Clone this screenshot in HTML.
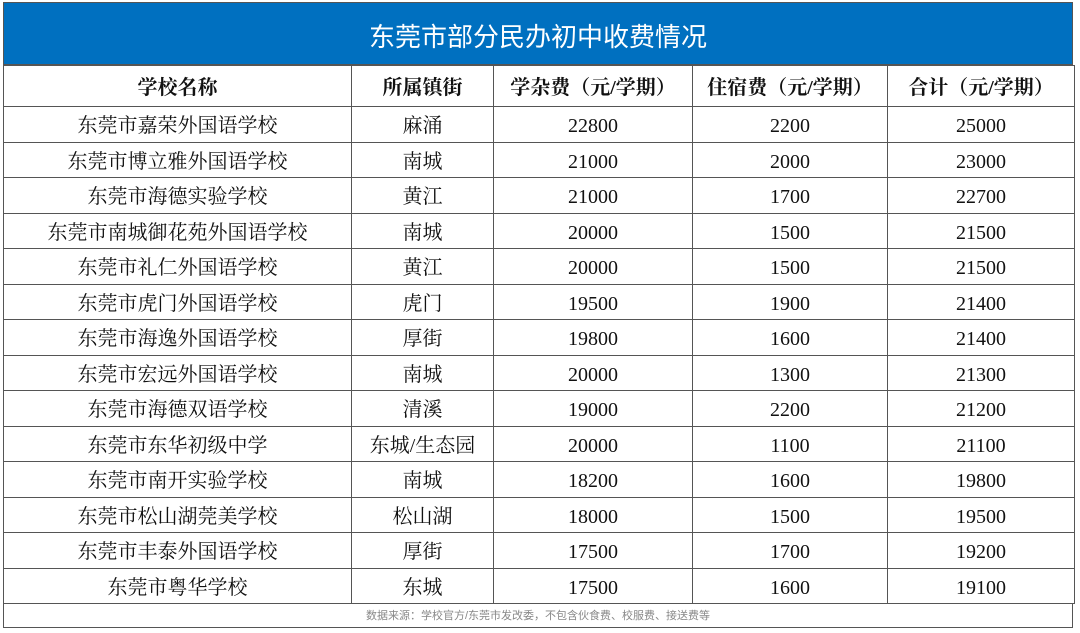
<!DOCTYPE html>
<html><head><meta charset="utf-8"><style>
body{margin:0;width:1080px;height:633px;background:#fff;position:relative;overflow:hidden;font-family:"Liberation Serif","Noto Serif CJK SC",serif;color:#111}
.t{position:absolute;left:3px;top:2px;width:1070px;height:63px;background:#0070c0;color:#fff;font-family:"Liberation Sans","Noto Sans CJK SC",sans-serif;font-size:26px;text-align:center;line-height:68px;border:1px solid #555;box-sizing:border-box}
table{position:absolute;left:3px;top:65px;width:1071px;border-collapse:collapse;table-layout:fixed}
td{border:1px solid #555;text-align:center;font-size:20px;height:35.5px;padding:4px 0 0 0;line-height:30px;box-sizing:border-box}
tr.h td{font-weight:bold;height:41px}
.f{position:absolute;left:3px;top:603px;width:1070px;height:25px;border:1px solid #555;border-top:none;box-sizing:border-box;font-family:"Liberation Sans","Noto Sans CJK SC",sans-serif;font-size:11px;color:#888;text-align:center;line-height:27px}
</style></head><body>
<div class="t">东莞市部分民办初中收费情况</div>
<table>
<colgroup><col style="width:348px"><col style="width:142px"><col style="width:199px"><col style="width:195px"><col style="width:187px"></colgroup>
<tr class="h"><td>学校名称</td><td>所属镇街</td><td>学杂费（元/学期）</td><td>住宿费（元/学期）</td><td>合计（元/学期）</td></tr>
<tr><td>东莞市嘉荣外国语学校</td><td>麻涌</td><td>22800</td><td>2200</td><td>25000</td></tr>
<tr><td>东莞市博立雅外国语学校</td><td>南城</td><td>21000</td><td>2000</td><td>23000</td></tr>
<tr><td>东莞市海德实验学校</td><td>黄江</td><td>21000</td><td>1700</td><td>22700</td></tr>
<tr><td>东莞市南城御花苑外国语学校</td><td>南城</td><td>20000</td><td>1500</td><td>21500</td></tr>
<tr><td>东莞市礼仁外国语学校</td><td>黄江</td><td>20000</td><td>1500</td><td>21500</td></tr>
<tr><td>东莞市虎门外国语学校</td><td>虎门</td><td>19500</td><td>1900</td><td>21400</td></tr>
<tr><td>东莞市海逸外国语学校</td><td>厚街</td><td>19800</td><td>1600</td><td>21400</td></tr>
<tr><td>东莞市宏远外国语学校</td><td>南城</td><td>20000</td><td>1300</td><td>21300</td></tr>
<tr><td>东莞市海德双语学校</td><td>清溪</td><td>19000</td><td>2200</td><td>21200</td></tr>
<tr><td>东莞市东华初级中学</td><td>东城/生态园</td><td>20000</td><td>1100</td><td>21100</td></tr>
<tr><td>东莞市南开实验学校</td><td>南城</td><td>18200</td><td>1600</td><td>19800</td></tr>
<tr><td>东莞市松山湖莞美学校</td><td>松山湖</td><td>18000</td><td>1500</td><td>19500</td></tr>
<tr><td>东莞市丰泰外国语学校</td><td>厚街</td><td>17500</td><td>1700</td><td>19200</td></tr>
<tr><td>东莞市粤华学校</td><td>东城</td><td>17500</td><td>1600</td><td>19100</td></tr>
</table>
<div class="f">数据来源：学校官方/东莞市发改委，不包含伙食费、校服费、接送费等</div>
</body></html>
